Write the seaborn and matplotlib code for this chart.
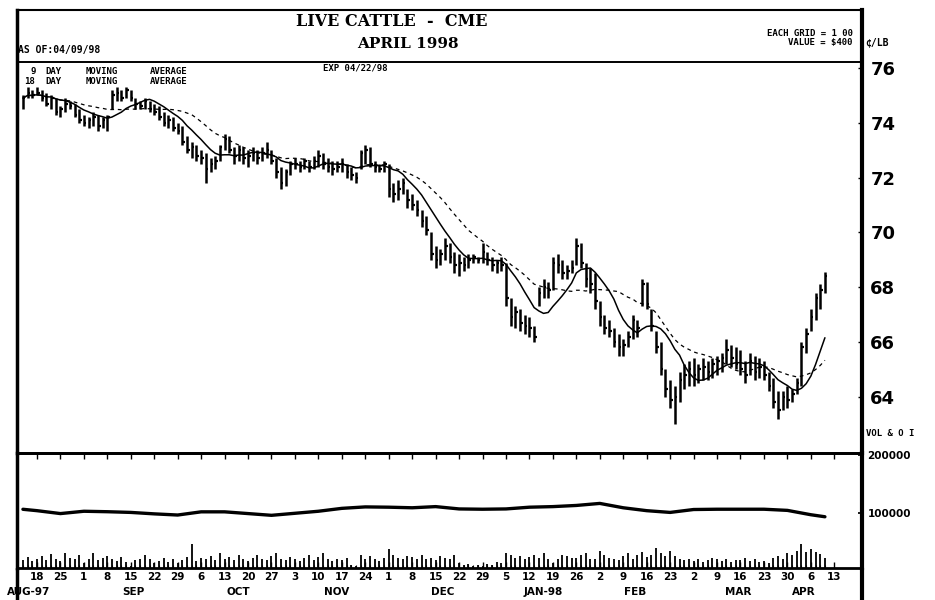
import numpy as np
import pandas as pd
import matplotlib
matplotlib.use("Agg")
import matplotlib.pyplot as plt
from matplotlib.lines import Line2D
import seaborn as sns

sns.set_theme(style="white")
plt.rcParams['font.family'] = ['DejaVu Sans']
plt.rcParams['text.color'] = 'black'
plt.rcParams['xtick.color'] = 'black'
plt.rcParams['ytick.color'] = 'black'
plt.rcParams['axes.labelcolor'] = 'black'

# ---------------- data (trading-day index, 0 = Mon 18 Aug 1997) ----------------
day_index = list(range(-3, 169))

high = [75.0, 75.3, 75.2,
        75.3, 75.2, 75.1, 75.0, 74.9,   # Aug 18
        74.6, 74.9, 74.8, 74.7, 74.5,   # Aug 25
        74.3, 74.2, 74.4, 74.3, 74.2,   # Sep 1
        74.3, 75.2, 75.3, 75.2, 75.3,   # Sep 8
        75.2, 74.9, 74.8, 74.9, 74.8,   # Sep 15
        74.7, 74.6, 74.4, 74.3, 74.2,   # Sep 22
        74.0, 73.9, 73.5, 73.3, 73.2,   # Sep 29
        73.0, 72.9, 72.7, 72.8, 73.2,   # Oct 6
        73.6, 73.5, 73.1, 73.2, 73.1,   # Oct 13
        73.0, 73.1, 73.0, 73.1, 73.3,   # Oct 20
        73.0, 72.7, 72.4, 72.3, 72.6,   # Oct 27
        72.7, 72.6, 72.7, 72.6, 72.8,   # Nov 3
        73.0, 72.9, 72.7, 72.6, 72.6,   # Nov 10
        72.7, 72.5, 72.4, 72.2, 73.0,   # Nov 17
        73.2, 73.1, 72.6, 72.5, 72.6,   # Nov 24
        72.5, 71.8, 71.9, 72.0, 71.6,   # Dec 1
        71.4, 71.2, 70.8, 70.6, 70.0,   # Dec 8
        69.5, 69.4, 69.8, 69.6, 69.3,   # Dec 15
        69.2, 69.1, 69.2, 69.2, 69.1,   # Dec 22
        69.6, 69.3, 69.1, 69.0, 69.1,   # Dec 29
        68.9, 67.6, 67.3, 67.2, 67.0,   # Jan 5
        66.9, 66.6, 68.0, 68.3, 68.2,   # Jan 12
        69.1, 69.2, 69.0, 68.8, 69.0,   # Jan 19
        69.8, 69.6, 68.9, 68.7, 68.5,   # Jan 26
        67.5, 67.0, 66.8, 66.5, 66.3,   # Feb 2
        66.1, 66.4, 67.0, 66.8, 68.3,   # Feb 9
        68.2, 67.2, 66.4, 66.0, 65.0,   # Feb 16
        64.6, 64.4, 64.9, 65.2, 65.3,   # Feb 23
        65.4, 65.2, 65.4, 65.3, 65.4,   # Mar 2
        65.5, 65.6, 66.1, 65.9, 65.8,   # Mar 9
        65.7, 65.3, 65.6, 65.5, 65.4,   # Mar 16
        65.3, 64.9, 64.7, 64.2, 64.2,   # Mar 23
        64.4, 64.3, 64.7, 66.0, 66.5,   # Mar 30
        67.2, 67.8, 68.1, 68.55]        # Apr 6

low = [74.5, 74.9, 74.9,
       75.0, 74.8, 74.6, 74.5, 74.3,
       74.2, 74.4, 74.5, 74.2, 74.0,
       73.9, 73.8, 73.9, 73.7, 73.8,
       73.7, 74.5, 74.8, 74.8, 74.9,
       74.8, 74.5, 74.5, 74.5, 74.4,
       74.3, 74.1, 73.9, 73.8, 73.7,
       73.6, 73.2, 72.9, 72.7, 72.6,
       72.5, 71.8, 72.2, 72.3, 72.6,
       73.0, 72.9, 72.5, 72.6, 72.5,
       72.4, 72.6, 72.5, 72.6, 72.7,
       72.5, 72.0, 71.6, 71.7, 72.1,
       72.3, 72.2, 72.3, 72.2, 72.3,
       72.4, 72.3, 72.2, 72.1, 72.2,
       72.2, 72.0, 71.9, 71.8, 72.3,
       72.5, 72.4, 72.2, 72.2, 72.2,
       71.3, 71.1, 71.2, 71.4, 70.9,
       70.8, 70.6, 70.2, 69.9, 69.0,
       68.7, 68.8, 69.0, 68.9, 68.5,
       68.4, 68.6, 68.7, 68.9, 68.9,
       68.9, 68.8, 68.6, 68.5, 68.6,
       67.3, 66.6, 66.5, 66.4, 66.3,
       66.2, 66.0, 67.3, 67.6, 67.6,
       67.9, 68.5, 68.3, 68.3, 68.5,
       68.8, 68.7, 68.0, 67.8, 67.2,
       66.6, 66.3, 66.2, 65.8, 65.5,
       65.5, 65.8, 66.1, 66.2, 67.3,
       67.2, 66.4, 65.6, 64.8, 64.0,
       63.6, 63.0, 63.8, 64.3, 64.4,
       64.4, 64.5, 64.6, 64.6, 64.7,
       64.8, 64.9, 65.2, 65.1, 65.0,
       64.8, 64.5, 64.8, 64.6, 64.7,
       64.6, 64.2, 63.6, 63.2, 63.5,
       63.6, 63.8, 64.1, 64.4, 65.6,
       66.4, 66.8, 67.2, 67.8]

close = [74.9, 75.1, 75.0,
         75.1, 74.9, 74.7, 74.9, 74.4,
         74.5, 74.7, 74.6, 74.3, 74.1,
         74.0, 74.1, 74.2, 73.9, 74.1,
         74.2, 75.0, 75.1, 74.9, 75.2,
         74.9, 74.7, 74.6, 74.8, 74.5,
         74.4, 74.2, 74.0, 74.1, 73.8,
         73.7, 73.3, 73.0, 73.1, 72.8,
         72.7, 72.3, 72.5, 72.6, 73.1,
         73.4, 73.0, 72.8, 73.0, 72.7,
         72.8, 72.9, 72.7, 72.9, 73.0,
         72.6, 72.2, 71.8, 72.2, 72.5,
         72.5, 72.4, 72.6, 72.4, 72.6,
         72.8, 72.5, 72.4, 72.3, 72.4,
         72.5, 72.2, 72.1, 72.0, 72.9,
         73.0, 72.5, 72.4, 72.3, 72.5,
         71.6, 71.4, 71.6, 71.8, 71.2,
         71.0, 70.8, 70.4, 70.1, 69.2,
         69.0, 69.2, 69.5, 69.1, 68.8,
         68.9, 68.8, 69.0, 69.1, 69.0,
         69.3, 69.0, 68.8, 68.9, 68.8,
         67.6, 66.9, 67.1, 66.7, 66.6,
         66.5, 66.2, 67.8, 68.0, 67.9,
         68.9, 68.8, 68.5, 68.6, 68.7,
         69.5, 68.9, 68.3, 68.1, 67.5,
         66.9, 66.5, 66.4, 66.0, 65.8,
         65.9, 66.2, 66.8, 66.5, 68.1,
         67.4, 66.6, 65.8, 65.0, 64.3,
         63.9, 64.0, 64.6, 64.8, 65.0,
         64.8, 65.0, 65.1, 64.9, 65.2,
         65.3, 65.4, 65.7, 65.4, 65.2,
         65.0, 64.8, 65.3, 64.9, 65.1,
         64.8, 64.4, 63.8, 63.5, 64.0,
         63.9, 64.1, 64.5, 65.8, 66.3,
         66.9, 67.6, 67.9, 68.4]

volume_k = [14, 19, 12,
            15, 21, 13, 24, 16,
            12, 26, 18, 15, 22,
            9, 16, 25, 13, 18,
            21, 15, 12, 19, 11,
            3, 13, 16, 23, 15,
            9, 12, 18, 10, 15,
            8, 13, 19, 42, 12,
            18, 15, 21, 13, 26,
            16, 19, 13, 22, 15,
            12, 18, 23, 15, 13,
            20, 26, 16, 13, 19,
            15, 12, 18, 22, 13,
            19, 25, 15, 12, 16,
            13, 18, 6, 4, 23,
            16, 21, 15, 12, 18,
            32, 22, 18, 15, 21,
            19, 16, 23, 15, 18,
            13, 21, 18, 15, 22,
            8, 5, 7, 4, 6,
            4, 7, 6, 11, 9,
            26, 22, 18, 21, 16,
            19, 23, 18, 25, 15,
            9, 16, 22, 21, 18,
            18, 22, 26, 16, 15,
            30, 23, 18, 15, 13,
            21, 25, 16, 22, 27,
            19, 23, 34, 26, 21,
            30, 21, 15, 13, 16,
            12, 15, 10, 13, 18,
            15, 12, 16, 10, 13,
            13, 18, 12, 15, 10,
            12, 9, 18, 21, 15,
            25, 22, 30, 42, 27,
            33, 28, 24, 18]

oi_days = [-3, 0, 5, 10, 15, 20, 25, 30, 35, 40, 45, 50, 55, 60, 65, 70, 75, 80,
           85, 90, 95, 100, 105, 110, 115, 120, 125, 130, 135, 140, 145, 150, 155,
           160, 165, 168]
oi_k = [106.4, 104.0, 99.0, 103.0, 102.2, 101.0, 98.5, 96.5, 102.0, 102.0, 99.0,
        96.0, 99.5, 103.0, 108.0, 110.5, 110.0, 109.0, 111.0, 107.0, 106.5, 107.0,
        110.0, 111.0, 113.0, 116.5, 109.0, 104.0, 101.0, 106.0, 106.5, 106.5,
        106.5, 104.5, 97.0, 93.5]

tick_days = list(range(0, 171, 5))
tick_labels = ["18", "25", "1", "8", "15", "22", "29", "6", "13", "20", "27", "3",
               "10", "17", "24", "1", "8", "15", "22", "29", "5", "12", "19", "26",
               "2", "9", "16", "23", "2", "9", "16", "23", "30", "6", "13"]
month_labels = ["AUG-97", "SEP", "OCT", "NOV", "DEC", "JAN-98", "FEB", "MAR", "APR"]
month_pos = [-1.8, 20.5, 42.9, 63.8, 86.4, 107.9, 127.5, 149.5, 163.5]
price_ticks = [64, 66, 68, 70, 72, 74, 76]
oi_ticks = [100000, 200000]
oi_tick_labels = ["100000", "200000"]

df = pd.DataFrame({"day": day_index, "high": high, "low": low, "close": close,
                   "vol": np.array(volume_k) * 1000})
df["ma9"] = df["close"].rolling(9, min_periods=1).mean()
df["ma18"] = df["close"].rolling(18, min_periods=1).mean()
oi_df = pd.DataFrame({"day": oi_days, "oi": np.array(oi_k) * 1000})

# ---------------- layout ----------------
W, H = 935, 600
def fx(x): return x / W
def fy(y): return 1 - y / H

L, R = 17, 862
TOP, MID, BOT = 10, 453, 568
PX_PER_UNIT = 27.4
Y76 = 68

fig = plt.figure(figsize=(W / 100, H / 100), dpi=100)
fig.patch.set_facecolor("white")
ax = fig.add_axes([fx(L), fy(MID), (R - L) / W, (MID - TOP) / H])
axv = fig.add_axes([fx(L), fy(BOT), (R - L) / W, (BOT - MID) / H])
axvol = axv.twinx()

x0 = -4.26
x1 = (R - 37) / 4.69
for a in (ax, axv, axvol):
    a.set_xlim(x0, x1)
    a.set_facecolor("none")

ax.set_ylim(76 - (MID - Y76) / PX_PER_UNIT, 76 + (Y76 - TOP) / PX_PER_UNIT)

# price bars
ax.vlines(df["day"], df["low"], df["high"], color="black", lw=1.8)
ax.hlines(df["close"], df["day"], df["day"] + 0.55, color="black", lw=1.6)

# moving averages
sns.lineplot(data=df, x="day", y="ma9", ax=ax, color="black", lw=1.1)
sns.lineplot(data=df, x="day", y="ma18", ax=ax, color="black", lw=0.9,
             linestyle=(0, (3, 3)))

# header separator line
ax.axhline(76 + (Y76 - 62) / PX_PER_UNIT, color="black", lw=1.4)

ax.set_xlabel("")
ax.set_ylabel("")
ax.set_xticks([])
ax.yaxis.tick_right()
ax.set_yticks(price_ticks)
ax.set_yticklabels([str(t) for t in price_ticks], fontsize=13, fontweight="bold")
ax.tick_params(axis="y", which="both", right=True, left=False, direction="in",
               length=3, width=1, pad=6, colors="black")
for s, lw in (("left", 2.5), ("right", 3.0), ("top", 1.5), ("bottom", 2.0)):
    ax.spines[s].set_linewidth(lw)
    ax.spines[s].set_color("black")

# volume / open interest panel
axv.set_ylim(5200, 203400)
sns.lineplot(data=oi_df, x="day", y="oi", ax=axv, color="black", lw=2.4)
axvol.set_ylim(0, 198000)
axvol.vlines(df["day"], 0, df["vol"], color="black", lw=1.3)
axvol.set_yticks([])
for s in axvol.spines.values():
    s.set_visible(False)

axv.set_xlabel("")
axv.set_ylabel("")
axv.yaxis.tick_right()
axv.set_yticks(oi_ticks)
axv.set_yticklabels(oi_tick_labels, fontsize=7.5, fontweight="bold")
axv.tick_params(axis="y", right=True, left=False, direction="in", length=3, pad=4,
                colors="black")
axv.set_xticks(tick_days)
axv.set_xticklabels(tick_labels, fontsize=7.5, fontweight="bold")
axv.set_xticks(day_index, minor=True)
axv.tick_params(axis="x", which="major", bottom=True, top=True, direction="in",
                length=4, width=1, pad=3, colors="black")
axv.tick_params(axis="x", which="minor", bottom=True, direction="in", length=2.5,
                width=0.8, colors="black")
for s, lw in (("left", 2.5), ("right", 3.0), ("top", 2.0), ("bottom", 2.0)):
    axv.spines[s].set_linewidth(lw)
    axv.spines[s].set_color("black")

for lab, pos in zip(month_labels, month_pos):
    axv.text(pos, -0.21, lab, transform=axv.get_xaxis_transform(), ha="center",
             va="center", fontsize=7.5, fontweight="bold")

# vertical frame lines continuing to bottom
fig.add_artist(Line2D([fx(L), fx(L)], [0, fy(BOT)], color="black", lw=2.5))
fig.add_artist(Line2D([fx(R), fx(R)], [0, fy(BOT)], color="black", lw=3.0))

# ---------------- texts ----------------
mono = "DejaVu Sans Mono"
fig.text(fx(392), fy(21), "LIVE CATTLE  -  CME", ha="center", va="center",
         fontsize=11.5, fontweight="bold", family="DejaVu Serif")
fig.text(fx(408), fy(44), "APRIL 1998", ha="center", va="center",
         fontsize=11, fontweight="bold", family="DejaVu Serif")
fig.text(fx(18), fy(50), "AS OF:04/09/98", ha="left", va="center",
         fontsize=7, fontweight="bold", family=mono)
fig.text(fx(355), fy(68), "EXP 04/22/98", ha="center", va="center",
         fontsize=6.5, fontweight="bold", family=mono)
fig.text(fx(853), fy(33), "EACH GRID = 1 00", ha="right", va="center",
         fontsize=6.5, fontweight="bold", family=mono)
fig.text(fx(853), fy(43), "VALUE = $400", ha="right", va="center",
         fontsize=6.5, fontweight="bold", family=mono)
fig.text(fx(865), fy(43), "¢/LB", ha="left", va="center",
         fontsize=7, fontweight="bold", family=mono)
for word, xp in (("9", 30), ("DAY", 45), ("MOVING", 86), ("AVERAGE", 150)):
    fig.text(fx(xp), fy(71), word, ha="left", va="center", fontsize=6.5,
             fontweight="bold", family=mono)
for word, xp in (("18", 24), ("DAY", 45), ("MOVING", 86), ("AVERAGE", 150)):
    fig.text(fx(xp), fy(81), word, ha="left", va="center", fontsize=6.5,
             fontweight="bold", family=mono)
fig.text(fx(866), fy(433), "VOL & O I", ha="left", va="center",
         fontsize=6.5, fontweight="bold", family=mono)

fig.savefig("out.png", dpi=100, facecolor="white")
